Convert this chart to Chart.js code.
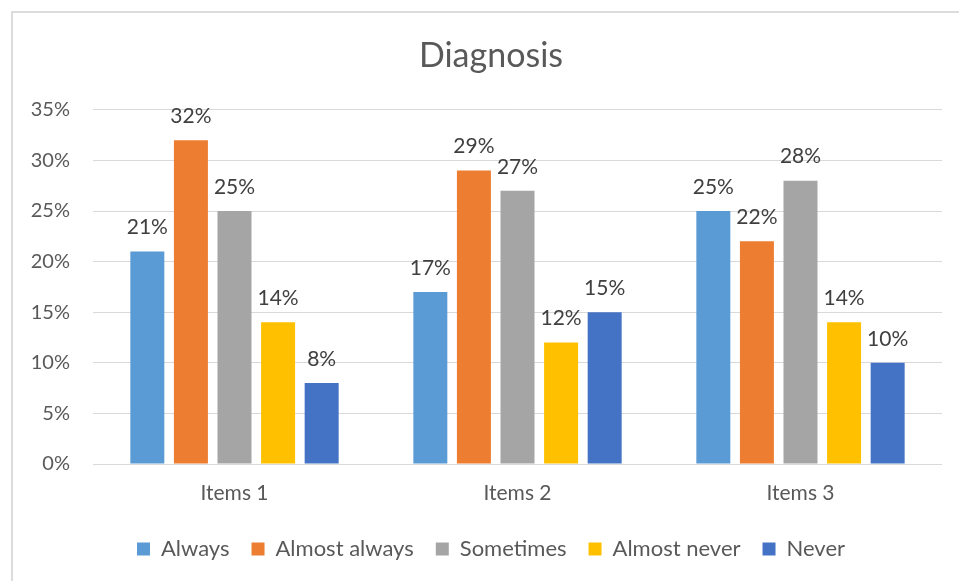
<!DOCTYPE html>
<html>
<head>
<meta charset="utf-8">
<script src="https://cdn.jsdelivr.net/npm/chart.js@4.4.0/dist/chart.umd.min.js"></script>
<style>
  html, body { margin: 0; padding: 0; background: #fff; overflow: hidden; }
  #frame {
    position: absolute; left: 11px; top: 11px;
    width: 960px; height: 600px;
    border-left: 2px solid #dcdcdc; border-top: 2px solid #dcdcdc;
  }
  #myChart { display: block; }
</style>
</head>
<body>
<div id="frame"><canvas id="myChart" width="956" height="580"></canvas></div>
<script>
const categories = ['Items 1', 'Items 2', 'Items 3'];

const seriesNames = ['Always', 'Almost always', 'Sometimes', 'Almost never', 'Never'];
const seriesColors = ['#5B9BD5', '#ED7D31', '#A5A5A5', '#FFC000', '#4472C4'];

const always = [21, 17, 25];
const almostAlways = [32, 29, 22];
const sometimes = [25, 27, 28];
const almostNever = [14, 12, 14];
const never = [8, 15, 10];

const yTicks = [0, 5, 10, 15, 20, 25, 30, 35];

const font = 'Lato, "Open Sans", sans-serif';
const grey = '#595959';

const seriesValues = [always, almostAlways, sometimes, almostNever, never];

const mydata = {
  labels: categories,
  datasets: seriesNames.map((name, i) => ({
    label: name,
    data: seriesValues[i],
    backgroundColor: seriesColors[i],
    borderWidth: 0,
    categoryPercentage: 0.77,
    barPercentage: 0.78,
  }))
};

// labels above each bar
const barLabels = {
  id: 'barLabels',
  afterDatasetsDraw(chart) {
    const ctx = chart.ctx;
    ctx.save();
    ctx.font = `21px ${font}`;
    ctx.fillStyle = '#404040';
    ctx.textAlign = 'center';
    ctx.textBaseline = 'middle';
    chart.data.datasets.forEach((ds, i) => {
      chart.getDatasetMeta(i).data.forEach((bar, j) => {
        ctx.fillText(`${ds.data[j]}%`, bar.x, bar.y - 24);
      });
    });
    ctx.restore();
  }
};

const config = {
  type: 'bar',
  data: mydata,
  plugins: [barLabels],
  options: {
    responsive: false,
    animation: false,
    layout: { padding: { left: 0, right: 0, top: 0, bottom: 23 } },
    plugins: {
      title: {
        display: true,
        text: 'Diagnosis',
        color: grey,
        font: { family: font, size: 34, weight: 'normal' },
        padding: { top: 23, bottom: 33 }
      },
      legend: {
        position: 'bottom',
        labels: {
          color: grey,
          font: { family: font, size: 22 },
          boxWidth: 13,
          boxHeight: 13,
          padding: 22
        }
      },
      tooltip: { enabled: false }
    },
    scales: {
      x: {
        grid: { display: false, drawTicks: false },
        border: { display: false },
        ticks: { color: grey, font: { family: font, size: 21 }, padding: 17 },
        afterFit: (s) => { s.height = 52; }
      },
      y: {
        min: 0,
        max: 35,
        afterBuildTicks: (s) => { s.ticks = yTicks.map((v) => ({ value: v })); },
        grid: { color: '#d9d9d9', lineWidth: 1, drawTicks: false },
        border: { display: false },
        ticks: {
          color: grey,
          font: { family: font, size: 20 },
          padding: 23,
          callback: (v) => `${v}%`
        },
        afterFit: (s) => { s.width = 80; }
      },
      y2: {
        position: 'right',
        grid: { display: false, drawTicks: false },
        border: { display: false },
        ticks: { display: false },
        afterFit: (s) => { s.width = 27; }
      }
    }
  }
};

const myChart = new Chart(document.getElementById('myChart'), config);
</script>
</body>
</html>
